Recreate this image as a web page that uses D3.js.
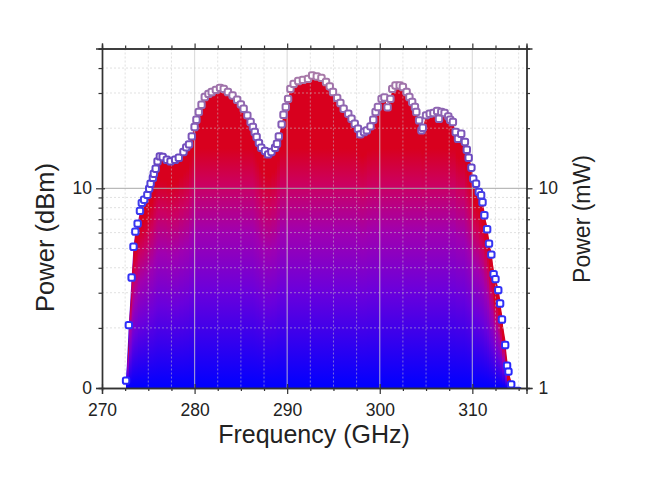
<!DOCTYPE html>
<html>
<head>
<meta charset="utf-8">
<script src="https://cdn.jsdelivr.net/npm/d3@7"></script>
<style>
  body { margin: 0; background: #fff; }
  svg { display: block; font-family: "Liberation Sans", Arial, sans-serif; }
</style>
</head>
<body>
<svg id="chart" width="654" height="486"></svg>
<script>
// values
const freqGHz = [272.6, 272.9, 273.2, 273.4, 273.6, 273.85, 274.1, 274.3, 274.55, 274.9,
  275.1, 275.25, 275.5, 275.6, 275.8, 276.0, 276.25, 276.55, 277.0, 277.4,
  277.9, 278.3, 278.8, 279.1, 279.4, 279.7, 280.0, 280.2, 280.45, 280.75,
  281.1, 281.5, 281.85, 282.3, 282.75, 283.15, 283.6, 284.1, 284.6, 285.0,
  285.3, 285.7, 286.05, 286.3, 286.5, 286.7, 286.95, 287.2, 287.6, 287.95,
  288.3, 288.7, 288.9, 289.1, 289.4, 289.6, 289.85, 290.1, 290.35, 290.7,
  291.2, 291.7, 292.25, 292.7, 293.2, 293.7, 294.2, 294.6, 294.95, 295.4,
  295.75, 296.1, 296.6, 296.95, 297.3, 297.65, 297.9, 298.3, 298.6, 299.0,
  299.3, 299.55, 299.8, 300.2, 300.5, 300.85, 301.15, 301.35, 301.7, 302.15,
  302.5, 302.9, 303.2, 303.5, 303.8, 303.95, 304.25, 304.5, 304.65, 305.0,
  305.4, 305.8, 306.2, 306.4, 306.65, 307.0, 307.4, 307.6, 307.9, 308.2,
  308.45, 308.8, 309.2, 309.4, 309.6, 309.9, 310.1, 310.4, 310.7, 310.95,
  311.1, 311.3, 311.6, 311.8, 312.05, 312.3, 312.5, 312.8, 313.0, 313.2,
  313.55, 313.75, 313.9, 314.2, 314.9];
const powerDbm = [0.37, 3.15, 5.53, 7.07, 7.83, 8.23, 8.87, 9.27, 9.43, 9.67,
  9.98, 10.23, 10.52, 10.73, 10.98, 11.35, 11.6, 11.57, 11.43, 11.35,
  11.43, 11.53, 11.82, 12.05, 12.2, 12.6, 13.07, 13.43, 13.82, 14.18,
  14.57, 14.73, 14.82, 14.93, 15.03, 14.98, 14.82, 14.65, 14.43, 14.2,
  13.98, 13.65, 13.32, 13.07, 12.82, 12.57, 12.27, 12.03, 11.87, 11.7,
  11.82, 12.03, 12.23, 12.6, 13.2, 13.68, 14.07, 14.48, 14.98, 15.23,
  15.37, 15.43, 15.48, 15.65, 15.6, 15.53, 15.32, 15.1, 14.82, 14.53,
  14.27, 13.98, 13.73, 13.48, 13.23, 12.98, 12.7, 12.82, 12.9, 13.1,
  13.43, 13.82, 14.07, 14.48, 14.55, 14.05, 14.48, 14.98, 15.15, 15.15,
  15.07, 14.82, 14.57, 14.32, 14.07, 13.82, 13.4, 12.9, 13.03, 13.65,
  13.73, 13.77, 13.87, 13.48, 13.82, 13.77, 13.6, 13.43, 13.32, 12.82,
  12.48, 12.73, 12.32, 11.93, 11.53, 11.03, 10.48, 10.23, 9.82, 9.65,
  9.3, 8.65, 7.95, 7.23, 6.68, 5.7, 5.45, 4.9, 4.23, 3.43,
  2.15, 1.12, 0.82, 0.18, -0.15];

const xMajorTicks = [270, 280, 290, 300, 310];
const xMinorTicks = [272.5, 275, 277.5, 282.5, 285, 287.5, 292.5, 295, 297.5, 302.5, 305, 307.5, 312.5, 315];
const dbmLabels = [0, 10];
const mwLabels = [1, 10];
const mwMinorTicks = [2, 3, 4, 5, 6, 7, 8, 9, 20, 30, 40, 50];

const svg = d3.select('#chart');
const pLeft = 102, pRight = 526.5, pTop = 48.5, pBottom = 388;

const x = d3.scaleLinear().domain([270, 315.85]).range([pLeft, pRight]);
const y = d3.scaleLinear().domain([0, 17]).range([pBottom, pTop]);
const yMw = d3.scaleLog().domain([1, Math.pow(10, 1.7)]).range([pBottom, pTop]);

const defs = svg.append('defs');
defs.append('clipPath').attr('id', 'plotclip')
  .append('rect').attr('x', pLeft).attr('y', pTop).attr('width', pRight - pLeft).attr('height', pBottom - pTop);

const stops = [[0, '#0000ff'], [0.4, '#6a00dc'], [0.65, '#a000b0'], [0.85, '#cc0060'], [1, '#d8001e']];
function addGradient(id, reach) {
  const grad = defs.append('linearGradient')
    .attr('id', id)
    .attr('gradientUnits', 'userSpaceOnUse')
    .attr('x1', 0).attr('x2', 0)
    .attr('y1', y(0)).attr('y2', y(reach));
  stops.forEach(s => grad.append('stop').attr('offset', s[0]).attr('stop-color', s[1]));
}

const pts = freqGHz.map((f, i) => [f, powerDbm[i]]);
const fillG = svg.append('g').attr('clip-path', 'url(#plotclip)');

// whole area first, one gradient
addGradient('fullgrad', 12);
fillG.append('path')
  .datum(pts)
  .attr('d', d3.area().x(d => x(d[0])).y0(y(0)).y1(d => y(d[1])))
  .attr('fill', 'url(#fullgrad)');

// then strips where the curve is low/steep: red reaches lower there
const strip = d3.area()
  .x((d, j) => x(d[0]) + (j ? 1 : 0))
  .y0(y(0))
  .y1(d => y(d[1]));
for (let i = 0; i < pts.length - 1; i++) {
  const seg = [pts[i], pts[i + 1]];
  const peak = Math.max(seg[0][1], seg[1][1]);
  const reach = Math.max(0.2, peak - 1.2);
  if (reach >= 12) continue;
  addGradient('seg' + i, reach);
  fillG.append('path').attr('d', strip(seg)).attr('fill', 'url(#seg' + i + ')');
}

// grid, drawn over the fill
const grid = svg.append('g').attr('clip-path', 'url(#plotclip)').attr('fill', 'none');
grid.selectAll('.vmin').data(xMinorTicks).join('line')
  .attr('x1', d => x(d)).attr('x2', d => x(d)).attr('y1', pTop).attr('y2', pBottom)
  .attr('stroke', '#c8c8c8').attr('stroke-opacity', 0.55).attr('stroke-dasharray', '2,2');
grid.selectAll('.vmaj').data(xMajorTicks.slice(1)).join('line')
  .attr('x1', d => x(d)).attr('x2', d => x(d)).attr('y1', pTop).attr('y2', pBottom)
  .attr('stroke', '#cfcfcf').attr('stroke-opacity', 0.7).attr('stroke-width', 1.2);
grid.selectAll('.hmin').data(mwMinorTicks).join('line')
  .attr('x1', pLeft).attr('x2', pRight).attr('y1', d => yMw(d)).attr('y2', d => yMw(d))
  .attr('stroke', '#c8c8c8').attr('stroke-opacity', 0.55).attr('stroke-dasharray', '2,2');
grid.append('line')
  .attr('x1', pLeft).attr('x2', pRight).attr('y1', yMw(10)).attr('y2', yMw(10))
  .attr('stroke', '#a8a8a8').attr('stroke-opacity', 0.8).attr('stroke-width', 1.2);

// markers
const markColor = d3.scaleLinear()
  .domain([0, 9, 11.5, 15.5])
  .range(['#2626ff', '#3a3af0', '#6a48c0', '#a87aa8'])
  .clamp(true);
svg.append('g').attr('clip-path', 'url(#plotclip)')
  .selectAll('rect').data(pts).join('rect')
  .attr('x', d => x(d[0]) - 3.2).attr('y', d => y(d[1]) - 3.2)
  .attr('width', 6.4).attr('height', 6.4).attr('rx', 1.8)
  .attr('fill', '#fff')
  .attr('stroke', d => markColor(d[1]))
  .attr('stroke-width', 2);

// axes
function styleAxis(g) {
  g.select('.domain').attr('stroke', '#333').attr('stroke-width', 1.4);
  g.selectAll('.tick line').attr('stroke', '#333').attr('stroke-width', 1.2);
  g.selectAll('.tick text').attr('fill', '#222').style('font-size', '17.5px');
}

svg.append('g').attr('transform', `translate(0,${pBottom})`)
  .call(d3.axisBottom(x).tickValues(xMinorTicks).tickSize(3).tickFormat(''))
  .call(styleAxis);
svg.append('g').attr('transform', `translate(0,${pBottom})`)
  .call(d3.axisBottom(x).tickValues(xMajorTicks).tickSize(6).tickPadding(10).tickFormat(d3.format('d')))
  .call(styleAxis);
svg.append('g').attr('transform', `translate(0,${pBottom})`)
  .call(d3.axisBottom(x).tickValues(xMajorTicks).tickSize(-4).tickFormat(''))
  .call(styleAxis).select('.domain').remove();

svg.append('g').attr('transform', `translate(0,${pTop})`)
  .call(d3.axisTop(x).tickValues(xMinorTicks).tickSize(3).tickFormat(''))
  .call(styleAxis);
svg.append('g').attr('transform', `translate(0,${pTop})`)
  .call(d3.axisTop(x).tickValues(xMajorTicks).tickSize(5).tickFormat(''))
  .call(styleAxis);

svg.append('g').attr('transform', `translate(${pLeft},0)`)
  .call(d3.axisLeft(yMw).tickValues(mwMinorTicks).tickSize(3.5).tickFormat(''))
  .call(styleAxis);
svg.append('g').attr('transform', `translate(${pLeft},0)`)
  .call(d3.axisLeft(y).tickValues(dbmLabels).tickSize(6).tickPadding(4).tickFormat(d3.format('d')))
  .call(styleAxis);
svg.append('g').attr('transform', `translate(${pLeft},0)`)
  .call(d3.axisLeft(y).tickValues(dbmLabels).tickSize(-3).tickFormat(''))
  .call(styleAxis).select('.domain').remove();

svg.append('g').attr('transform', `translate(${pRight},0)`)
  .call(d3.axisRight(yMw).tickValues(mwMinorTicks).tickSize(3.5).tickFormat(''))
  .call(styleAxis);
svg.append('g').attr('transform', `translate(${pRight},0)`)
  .call(d3.axisRight(yMw).tickValues(mwLabels).tickSize(6).tickPadding(6).tickFormat(d3.format('d')))
  .call(styleAxis);

// titles
svg.append('text')
  .attr('transform', 'translate(53.5,237.5) rotate(-90)')
  .attr('text-anchor', 'middle').attr('fill', '#222')
  .style('font-size', '25.5px')
  .text('Power (dBm)');
svg.append('text')
  .attr('x', 314).attr('y', 443)
  .attr('text-anchor', 'middle').attr('fill', '#222')
  .style('font-size', '25px')
  .text('Frequency (GHz)');
svg.append('text')
  .attr('transform', 'translate(590,219) rotate(-90)')
  .attr('text-anchor', 'middle').attr('fill', '#222')
  .style('font-size', '23px')
  .text('Power (mW)');
</script>
</body>
</html>
